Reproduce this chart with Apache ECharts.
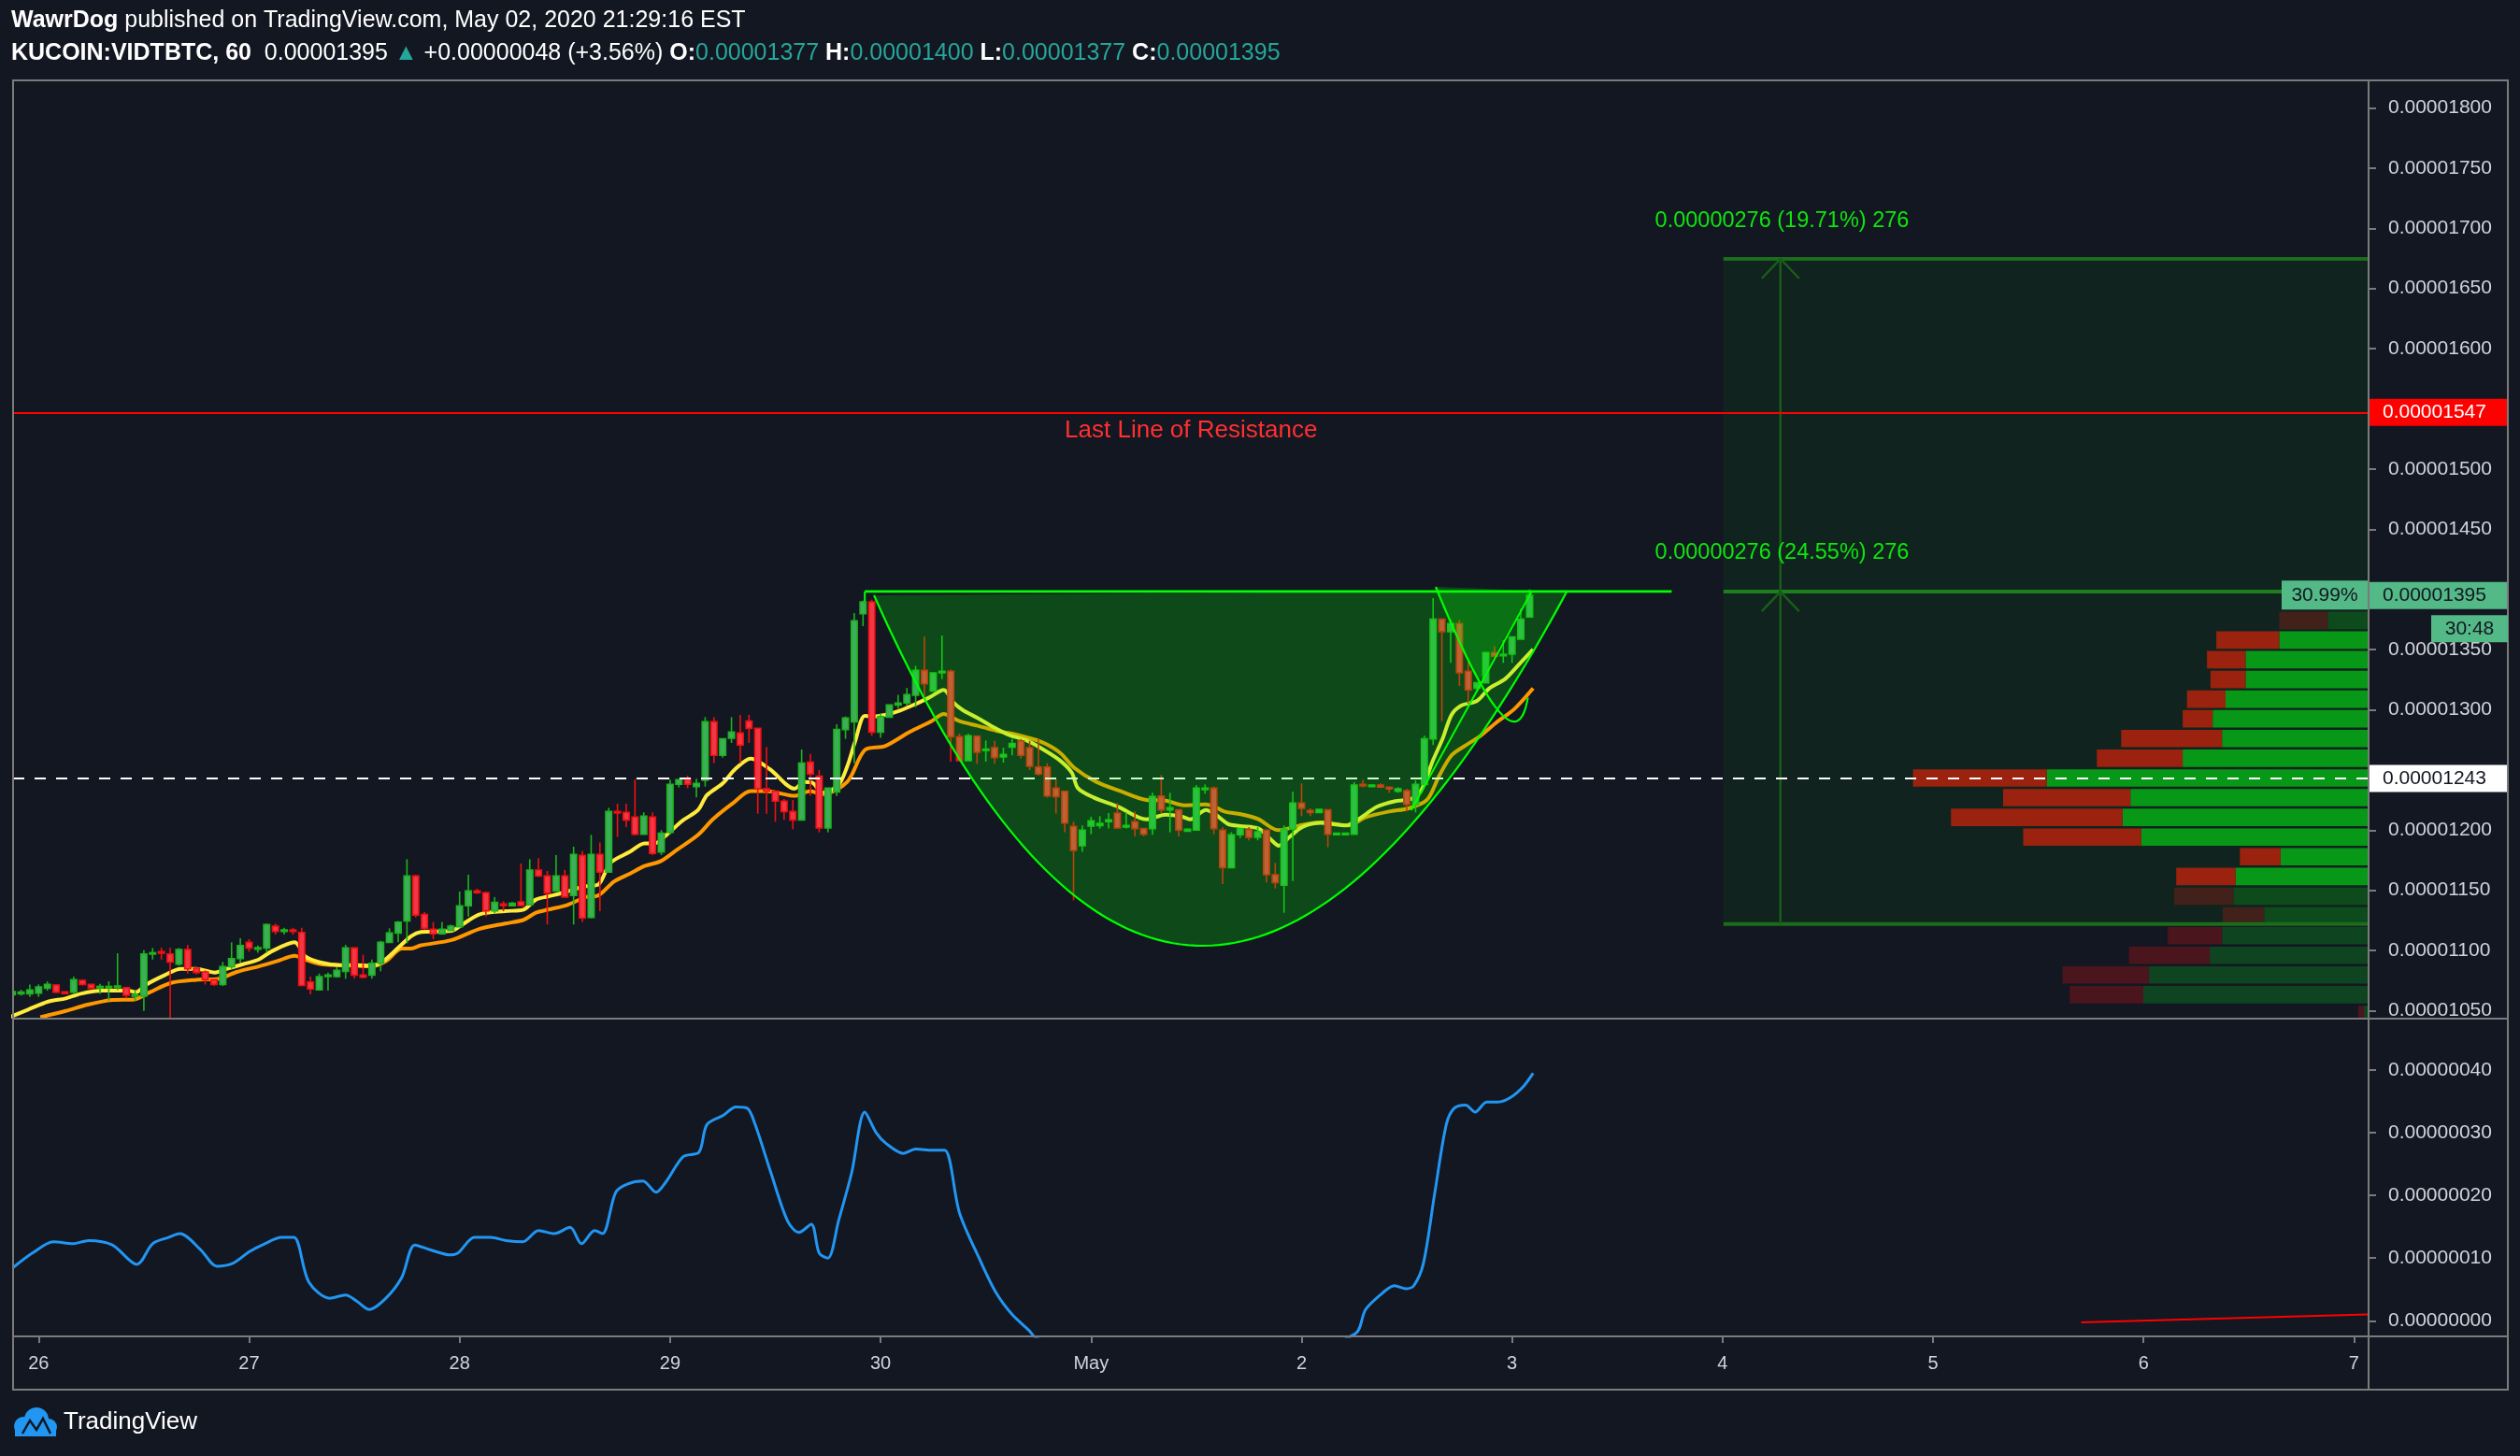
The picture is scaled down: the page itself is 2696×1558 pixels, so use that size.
<!DOCTYPE html>
<html><head><meta charset="utf-8">
<script src="https://cdn.jsdelivr.net/npm/echarts@6/dist/echarts.min.js"></script>
<style>html,body{margin:0;padding:0;background:#131722;}#c{width:2696px;height:1558px;}</style>
</head><body><div id="c"></div>
<script>
// ---------------- DATA (prices in units of 1e-8 BTC, x in hours from Apr 26 00:00) ----------------
const dayTicks = [0,24,48,72,96,120,144,168,192,216,240,264];
const dayLabels = ['26','27','28','29','30','May','2','3','4','5','6','7'];
const priceTicks = [1050,1100,1150,1200,1300,1350,1450,1500,1600,1650,1700,1750,1800];
const oscTicks = [0,10,20,30,40];

const candleStartHour = -3;
const opens = [1063.3,1064.1,1064.1,1064.6,1068.7,1071.3,1065.6,1065.4,1075.2,1071.8,1069.3,1069.2,1069.2,1069.2,1062,1062,1097.2,1099,1097.2,1088.6,1100.8,1085.3,1082.2,1075.7,1071.8,1086.6,1093.3,1106.8,1101,1102.1,1120.2,1115.8,1117.1,1115,1073.9,1067.4,1078.3,1078.3,1082.7,1102.1,1079.6,1079.6,1089.4,1106.8,1114.5,1124.6,1161.9,1130,1117.7,1113.8,1116.7,1119.8,1137.1,1149.5,1148,1133,1138.7,1137.1,1140.5,1137.9,1166.9,1162,1149.5,1162,1145.7,1179,1127.5,1179.8,1165.1,1215.5,1214.8,1210.9,1196.6,1210.9,1181.9,1198.2,1238.1,1242,1236.2,1241.4,1290,1262.1,1276.3,1280.7,1290.6,1284.6,1234.4,1232.4,1224.1,1215.5,1208.5,1256.4,1244.8,1201.8,1231.8,1283.6,1290,1379.8,1389.7,1281.5,1293.9,1304,1305.6,1312,1332.7,1315.6,1330.7,1332,1277.6,1257.7,1278.1,1266.4,1268.5,1260.8,1269,1274.2,1268.5,1252.5,1252.5,1234.9,1232.3,1203.1,1187,1203.3,1203.8,1207,1214.2,1202.6,1207,1201.3,1201.3,1228.4,1216.8,1216.8,1199.2,1200,1233.6,1234.9,1200,1168.9,1196.1,1200.5,1194,1200,1163,1154.2,1200.8,1222.5,1216.3,1214.7,1216.8,1196.1,1196.1,1196.6,1238,1236.2,1237.5,1235.7,1232.3,1232.8,1221.4,1238,1275.8,1375.2,1364.9,1371.6,1332,1317.8,1322.4,1347.5,1344.9,1346.2,1358.7,1377];
const highs = [1067.4,1067.4,1071.8,1071.8,1074.4,1072,1065.8,1078.3,1076,1072,1072.3,1074.4,1097.7,1069.8,1066.6,1100.3,1102.1,1102.3,1102.3,1102.1,1104.7,1086,1083.5,1076.2,1090.5,1106.8,1110.1,1109.4,1104.2,1122.3,1122.3,1118.9,1118.9,1118.9,1078.3,1080.9,1081.7,1086.1,1104.7,1102.5,1096.4,1092.5,1108.1,1118.4,1124.6,1175.9,1162.9,1131.9,1123.7,1123.7,1121.6,1149,1163,1151.3,1149,1144.4,1141,1140.5,1172.3,1175.9,1176.7,1166.1,1179.3,1166.9,1186.3,1182.7,1196.1,1189.7,1218.6,1222,1222,1242,1214.8,1214.8,1200,1242,1242,1245.3,1242.7,1293.9,1293.9,1275.8,1293.9,1295.8,1295.8,1284.6,1269.1,1232.9,1225.9,1225.1,1267,1263.4,1250,1234.9,1288,1294.4,1380.4,1390.7,1391.5,1297,1304,1312.5,1318.2,1336.4,1361,1330.7,1361.7,1333.3,1280.2,1280.2,1278.1,1274.5,1274.2,1268.5,1275.8,1275.8,1274.2,1275.8,1255.6,1242.1,1232.3,1207,1203.9,1211.1,1211.6,1214.2,1222.5,1214.7,1215.5,1201.3,1231,1245.8,1231,1216.8,1201.3,1237.5,1238,1236.2,1202.6,1198.2,1201.3,1202.6,1202.6,1200,1172.8,1203.9,1231.8,1238.8,1218.1,1217.3,1216.8,1197.4,1197.4,1240,1241.9,1238,1238.8,1235.7,1235.7,1234.4,1241.4,1278.4,1392.8,1375.2,1375.2,1374.7,1339.8,1322.4,1347.5,1352.7,1357.9,1360.5,1383.8,1400];
const lows = [1058.4,1062.5,1061.5,1061.5,1066.6,1064.5,1064,1064.1,1071,1068,1064,1058.4,1067.2,1060.2,1058.4,1049.8,1092.5,1092.5,1043,1087.3,1080.9,1080,1071.8,1070.5,1070.5,1084.8,1090,1099,1098.2,1098.2,1113.2,1113.2,1113.2,1070.5,1063.5,1066.6,1066.6,1077.5,1076.5,1076.5,1077,1076.5,1082.7,1106.8,1106.8,1106,1127.5,1117.1,1109.4,1113,1116.7,1119.8,1128.3,1147,1128.3,1130.9,1132.7,1137.1,1137.1,1137.9,1161,1121.6,1149.5,1144.4,1121.6,1123.7,1126.8,1132.7,1165.1,1194.3,1202.6,1195.6,1196.6,1179.3,1179.3,1196.1,1235.5,1234.9,1227.2,1236.2,1255.7,1260.3,1272.5,1255.7,1272.5,1213.7,1213.7,1207,1208.5,1200.8,1208.5,1228.5,1198.2,1198.2,1228.4,1275.8,1255.6,1369.5,1278.4,1276.8,1293.9,1300.9,1303.5,1302.2,1311.2,1315.6,1325.5,1256.9,1256.9,1257.7,1255.1,1256.9,1255.1,1256.1,1262.1,1259.5,1249.9,1245.2,1227.1,1213.7,1198.2,1141.7,1181.9,1196.6,1201.3,1201.3,1201.3,1201.3,1194.8,1194.8,1196.1,1214.2,1198.2,1194.8,1198.7,1200,1230.2,1196.6,1155.2,1168.9,1193.5,1191.5,1191.5,1156.5,1151.6,1131.4,1157.8,1211.6,1211.6,1214.7,1185.8,1196,1196,1196.6,1235.5,1236.2,1235,1231,1231,1215.5,1214.7,1238,1270.7,1290.6,1339,1319.8,1304.8,1315.2,1322.4,1343.6,1339,1339,1358.7,1377];
const closes = [1065.9,1065.4,1067.2,1069.8,1071.8,1065.4,1064.3,1075.7,1071.8,1068.7,1070.2,1070.2,1070.5,1062.8,1063.3,1097.2,1098.2,1097.7,1090.4,1100.8,1084.8,1081.7,1075.7,1071.8,1086.6,1093.3,1104.2,1102.1,1102.3,1121.5,1115.8,1117.1,1115.8,1071,1068,1078.3,1079.6,1083.5,1102.1,1079.6,1077.8,1089.4,1106.8,1114.5,1123.6,1161.9,1129.5,1118.4,1113.8,1117.7,1120.3,1137.1,1149.5,1148,1133,1140,1137.4,1139.2,1137.4,1166.9,1162,1147.7,1162,1144.4,1179.8,1127,1179.8,1165.1,1215.5,1214.2,1208.5,1196.6,1211.7,1180.6,1197.4,1238.1,1242,1238.1,1238.8,1290,1262.1,1275.8,1281.5,1270.7,1284.6,1234.4,1232.4,1224.1,1215.5,1208.5,1255.7,1246.6,1201.8,1234.9,1283.6,1293.1,1373.9,1389.7,1281.5,1294.4,1304,1305.6,1312.5,1332.7,1321.6,1330.7,1332,1277.6,1257.7,1278.4,1264.7,1267.3,1260.3,1262.8,1272,1262.1,1253,1246.6,1228.4,1227.9,1205.9,1183.1,1200,1207.7,1205.6,1208.6,1201.8,1203.9,1201.3,1196.6,1227.9,1216.8,1218.6,1200,1200.7,1234.9,1234.9,1201.3,1168.9,1196.1,1201.3,1194,1198.7,1163,1156.5,1200.8,1222.5,1218.1,1214.7,1217.3,1196.6,1197.4,1197.4,1237.5,1236.7,1237.5,1235.7,1234.2,1234.4,1221.4,1238,1275.8,1375.2,1364.9,1371.6,1330.7,1316.5,1322.4,1347.5,1344.4,1346.2,1360.5,1375.2,1395];

const emaFast = [[-3.3,1044.6],[-1.2,1050.9],[1.1,1057.6],[3.1,1060.2],[4.8,1064.1],[7.3,1066.6],[10.2,1066.6],[11.1,1065.4],[12.3,1071.8],[14.4,1079.6],[16.2,1084.8],[18,1084.8],[20.1,1081.7],[21.5,1084.8],[23.3,1088.6],[25.1,1092.5],[26.5,1099],[29.2,1106.8],[30.4,1095.1],[32.2,1090],[34.3,1087.9],[36.1,1087.9],[37.9,1087.4],[39.3,1091.2],[41.1,1102.9],[42.5,1112],[43.6,1115.4],[47.1,1116.4],[48.2,1121.1],[50.3,1130.1],[53.2,1132.7],[55.3,1134],[56.7,1142.3],[58.1,1144.9],[59.9,1148.2],[61,1150.8],[62.4,1153.4],[63.8,1154.7],[65.2,1172.8],[67.4,1181.9],[69.1,1188.9],[70.2,1188.9],[71.6,1196.1],[73.4,1207.8],[75.2,1216.8],[76.2,1229],[78,1238.8],[79.4,1250.5],[81.2,1259.5],[83.4,1250.5],[86.2,1234.4],[87.3,1240.1],[88.2,1239.6],[89,1232.9],[89.4,1231],[91.2,1237.5],[92.2,1253],[93.1,1273.7],[94.2,1295],[95.1,1294.4],[96.5,1295.7],[98.3,1299.6],[100,1304.8],[101.5,1310],[103.2,1316.4],[104.3,1306.1],[105.4,1299.6],[107.1,1293.1],[108.9,1285.4],[110.7,1278.9],[112.5,1275],[114.2,1268.5],[116.4,1258.2],[117.8,1247.8],[118.5,1234.9],[120.3,1227.1],[123.1,1219.4],[126.3,1209],[128.5,1212.9],[130.2,1211.6],[131.3,1209],[133.1,1216.8],[134.1,1213.5],[135.6,1205.2],[137,1203.4],[139.1,1201.3],[140.5,1192.2],[141.4,1187.1],[142.7,1194.8],[144.1,1202.6],[146.2,1206],[149.1,1203.9],[150.5,1209.1],[152.6,1219.4],[154.7,1224.1],[156.5,1225.9],[157.6,1232.4],[159,1258.2],[160.1,1276.3],[161.1,1295.8],[162.2,1303.5],[164,1307.4],[165.4,1317.8],[167.2,1325.5],[168.9,1338.5],[170.4,1350.1]];
const emaSlow = [[0.2,1044.6],[3.1,1049.8],[5.6,1055],[8.4,1058.9],[10.9,1059.4],[12.7,1065.4],[15.1,1073.1],[18,1075.7],[20.5,1076.5],[22.6,1082.2],[25.1,1086.8],[27.2,1091.2],[29.2,1095.6],[30.4,1092.5],[32.2,1088.6],[34.3,1087.9],[36.1,1087.4],[37.9,1086.8],[39.6,1091.2],[41.4,1101.6],[42.5,1101.7],[43.6,1104.3],[47.1,1108.7],[50.3,1118],[53.2,1122.4],[55.3,1125.5],[56.7,1131.4],[58.1,1134],[60.3,1137.9],[62.4,1144.4],[63.8,1145.7],[65.6,1157.3],[67.4,1163.8],[69.1,1170.2],[70.9,1174.1],[72.7,1183.2],[75.2,1196.1],[76.9,1209.1],[79.1,1222],[81.2,1232.4],[83,1232.4],[86.2,1228.5],[88,1232.4],[89.4,1229.8],[92.2,1240.1],[94.2,1266.5],[96.5,1269.8],[99.3,1281.5],[101.8,1290.5],[103.2,1296.5],[105,1290.5],[107.1,1286.7],[109.3,1282.3],[111.4,1279.4],[114.2,1273.7],[116.4,1264.7],[118.1,1251.7],[120.6,1240.1],[123.4,1232.3],[126.3,1225.1],[128.5,1224.5],[130.6,1220.7],[133.1,1221.4],[134.1,1219.4],[135.2,1215.5],[137.3,1212.9],[139.1,1209.1],[141.3,1200],[144.1,1204.4],[146.2,1206.5],[149.4,1203.9],[151.2,1210.4],[154,1215.5],[156.2,1218.1],[158.3,1225.1],[159.7,1245.3],[161.1,1262.1],[162.6,1269.9],[164.4,1278.4],[166.2,1289.3],[168.3,1300.9],[170.4,1317.8]];

const oscLine = [[-2.9,8.5],[-0.7,10.8],[1.7,12.6],[3.9,12.3],[5.7,12.8],[8.4,12.1],[11.2,9.0],[13.0,12.3],[14.8,13.3],[16.1,13.9],[18.5,11.3],[20.3,8.7],[22.2,9.2],[24.0,11.0],[25.8,12.3],[27.7,13.3],[29.1,13.3],[30.8,6.2],[33.2,3.6],[35.0,4.1],[36.3,3.1],[37.7,1.8],[39.6,3.6],[41.4,6.9],[42.9,12.1],[44.7,11.3],[46.9,10.5],[47.8,10.8],[49.7,13.3],[51.5,13.3],[53.3,12.8],[55.2,12.6],[57.0,14.4],[58.8,13.9],[60.6,14.9],[61.9,12.3],[63.4,14.4],[64.3,13.9],[65.8,20.5],[67.1,21.8],[68.9,22.3],[70.4,20.5],[71.6,22.3],[73.5,26.2],[75.3,26.9],[76.2,31.3],[78.1,32.8],[79.5,34.1],[80.8,33.9],[81.7,31.3],[83.5,23.6],[85.4,15.9],[86.7,14.1],[88.1,15.4],[89.0,10.8],[90.0,10.0],[91.2,15.9],[92.7,23.6],[94.2,33.3],[95.5,30.0],[96.7,28.2],[98.6,26.7],[100.0,27.4],[101.9,27.2],[103.3,27.2],[105.0,17.2],[107.4,9.5],[109.2,4.4],[111.0,1.0],[112.9,-1.5],[113.8,-2.8],[123.8,-8],[138.5,-8],[150.1,-2.1],[151.3,1.8],[153.2,4.4],[154.6,5.6],[155.9,5.1],[156.8,5.6],[157.9,9.2],[159.2,20.5],[160.5,31.3],[161.4,33.9],[162.7,34.4],[163.8,33.3],[165.1,34.9],[166.4,34.9],[167.8,35.6],[169.3,37.4],[170.4,39.5]];
const oscTrend = [[232.9,-0.25],[265.6,1.03]];

// Visible range volume profile rows: row centre price, up volume, down volume, outside value area (1)
const vpCentres = [1374.3,1357.9,1341.6,1325.2,1308.8,1292.5,1276.1,1259.7,1243.3,1227,1210.6,1194.2,1177.9,1161.5,1145.1,1128.8,1112.4,1096,1079.7,1063.3,1046.9];
const vpUp = [43.6,95.6,131.6,131.6,153,166.8,156.8,198.9,344.3,254.8,263.2,243.3,94.1,142.3,144.6,111.7,156.8,169.9,234.9,241,5];
const vpDown = [52,67.3,41.3,37.5,41.3,32.1,107.9,91.8,143.1,136.2,183.6,126.2,43.6,63.5,63.5,44.4,58.1,86.5,92.6,78.8,6];
const vpOutside = [1,0,0,0,0,0,0,0,0,0,0,0,0,0,1,1,1,1,1,1,1];

// Drawings (anchor points: [hour, price])
const resistancePrice = 1547;
const pocPrice = 1243;
const lastPrice = 1395;
const cupRim = [[94.2,1398.3],[186.2,1398.3]];
const cupLeftTick = [[94.2,1398.3],[94.2,1390]];
const cupCurve = [[95.25,1395.1],[130.95,810.9],[174.3,1399]];
const handleCurve = [[159.3,1402.1],[168.25,1243.2],[169.8,1310]];
const handleLine = [[156.5,1216.6],[170.3,1399]];
const posLeftHour = 192.1, posArrowHour = 198.6;
const posLevels = {stop:1122.1, entry:1398.2, target:1674.6};
const posTexts = [[184.3,1705.9,'0.00000276 (19.71%) 276'],[184.3,1430.3,'0.00000276 (24.55%) 276']];
const resistanceText = [131.4,1531.8,'Last Line of Resistance'];

// ---------------- CHART ----------------
const FONT = "'Liberation Sans','DejaVu Sans',sans-serif";
const X_MIN = -2.91, X_MAX = 265.66;
const fmtPrice = v => (v/1e8).toFixed(8);
const chart = echarts.init(document.getElementById('c'), null, {renderer:'canvas', width:2696, height:1558});

const candleData = opens.map((o,i)=>[candleStartHour+i, o, highs[i], lows[i], closes[i]]);
const vpData = vpCentres.map((c,i)=>[c, vpUp[i], vpDown[i], vpOutside[i]]);

function quadPts(s,c,e,n){const p=[];for(let i=0;i<=n;i++){const t=i/n,a=(1-t)*(1-t),b=2*t*(1-t),d=t*t;p.push([a*s[0]+b*c[0]+d*e[0],a*s[1]+b*c[1]+d*e[1]]);}return p;}

function renderCandle(params, api){
  const x=api.value(0),o=api.value(1),h=api.value(2),l=api.value(3),c=api.value(4);
  const pO=api.coord([x,o]),pC=api.coord([x,c]),pH=api.coord([x,h]),pL=api.coord([x,l]);
  const w=api.size([1,0])[0]*0.68;
  const up=c>=o;
  const top=Math.min(pO[1],pC[1]),bot=Math.max(pO[1],pC[1]);
  const border=up?'#1cb51c':'#f01010', fill=up?'#3dae5a':'#f23645';
  return {type:'group',children:[
    {type:'line',shape:{x1:pH[0],y1:pH[1],x2:pL[0],y2:pL[1]},style:{stroke:border,lineWidth:1.6}},
    {type:'rect',shape:{x:pO[0]-w/2,y:top,width:w,height:Math.max(bot-top,1.5)},style:{fill:fill,stroke:border,lineWidth:1.6}}
  ]};
}

function renderCup(params, api){
  const s=api.coord(cupCurve[0]),c=api.coord(cupCurve[1]),e=api.coord(cupCurve[2]);
  const big=quadPts(s,c,e,90);
  const r0=api.coord(cupRim[0]),r1=api.coord(cupRim[1]);
  const t0=api.coord(cupLeftTick[0]),t1=api.coord(cupLeftTick[1]);
  const hs=api.coord(handleCurve[0]),hc=api.coord(handleCurve[1]),he=api.coord(handleCurve[2]);
  const hp=quadPts(hs,hc,he,60);
  const la=api.coord(handleLine[0]),lb=api.coord(handleLine[1]);
  const side=p=>(lb[0]-la[0])*(p[1]-la[1])-(lb[1]-la[1])*(p[0]-la[0]);
  const s0=Math.sign(side(hp[0]));const hfill=[];
  for(const p of hp){ if(Math.sign(side(p))!==s0) break; hfill.push(p);} hfill.push(lb);
  const G='#00ff00';
  return {type:'group',children:[
    {type:'polygon',shape:{points:big},style:{fill:'rgba(0,255,0,0.22)'}},
    {type:'polygon',shape:{points:hfill},style:{fill:'rgba(0,255,0,0.22)'}},
    {type:'polyline',shape:{points:big},style:{stroke:G,lineWidth:2.2,fill:null}},
    {type:'polyline',shape:{points:hp},style:{stroke:G,lineWidth:2.2,fill:null}},
    {type:'line',shape:{x1:la[0],y1:la[1],x2:lb[0],y2:lb[1]},style:{stroke:G,lineWidth:2}},
    {type:'line',shape:{x1:r0[0],y1:r0[1],x2:r1[0],y2:r1[1]},style:{stroke:G,lineWidth:2.6}},
    {type:'line',shape:{x1:t0[0],y1:t0[1],x2:t1[0],y2:t1[1]},style:{stroke:G,lineWidth:2}}
  ]};
}

function renderPosition(params, api){
  const tl=api.coord([posLeftHour,posLevels.target]), br=api.coord([X_MAX,posLevels.stop]);
  const en=api.coord([posLeftHour,posLevels.entry]);
  const aTop=api.coord([posArrowHour,posLevels.target]), aEn=api.coord([posArrowHour,posLevels.entry]), aBot=api.coord([posArrowHour,posLevels.stop]);
  const lc='#1b6c1b', ac='#1a5c1a';
  const chev=p=>({type:'polyline',shape:{points:[[p[0]-20,p[1]+21],[p[0],p[1]],[p[0]+20,p[1]+21]]},style:{stroke:ac,lineWidth:2.5,fill:null}});
  const kids=[
    {type:'rect',shape:{x:tl[0],y:tl[1],width:br[0]-tl[0],height:br[1]-tl[1]},style:{fill:'rgba(0,140,0,0.11)'}},
    {type:'line',shape:{x1:tl[0],y1:tl[1],x2:br[0],y2:tl[1]},style:{stroke:lc,lineWidth:4}},
    {type:'line',shape:{x1:tl[0],y1:en[1],x2:br[0],y2:en[1]},style:{stroke:'#1d801d',lineWidth:4}},
    {type:'line',shape:{x1:tl[0],y1:br[1],x2:br[0],y2:br[1]},style:{stroke:lc,lineWidth:4}},
    {type:'line',shape:{x1:aBot[0],y1:aBot[1],x2:aTop[0],y2:aTop[1]},style:{stroke:ac,lineWidth:2.5}},
    chev(aTop), chev(aEn)
  ];
  posTexts.forEach(t=>{const p=api.coord([t[0],t[1]]);kids.push({type:'text',x:p[0],y:p[1],style:{text:t[2],fill:'#0ee60e',fontSize:23.5,fontFamily:FONT,align:'left',verticalAlign:'middle'}});});
  const rp=api.coord([resistanceText[0],resistanceText[1]]);
  kids.push({type:'text',x:rp[0],y:rp[1],style:{text:resistanceText[2],fill:'#ff3030',fontSize:26,fontFamily:FONT,align:'center',verticalAlign:'middle'}});
  return {type:'group',children:kids};
}

function renderVP(params, api){
  const c=api.value(0),up=api.value(1),dn=api.value(2),out=api.value(3);
  const half=7.25;
  const a=api.coord([0,c+half]), b=api.coord([up,c-half]), d=api.coord([up+dn,c-half]);
  const gC=out?'#0f4421':'#0a9a1b', rC=out?'#4a151d':'#ad1610';
  return {type:'group',children:[
    {type:'rect',shape:{x:b[0],y:a[1],width:a[0]-b[0],height:b[1]-a[1]},style:{fill:gC}},
    {type:'rect',shape:{x:d[0],y:a[1],width:b[0]-d[0],height:b[1]-a[1]},style:{fill:rC}}
  ]};
}

const axisGray='#7b7b7b', labelGray='#d1d4dc';
const lineLabel=(txt,bg,fg)=>({show:true,position:'end',distance:1,formatter:txt,backgroundColor:bg,color:fg,fontSize:21,fontFamily:FONT,padding:[4,14,4,14],width:121,align:'left'});

const option = {
  backgroundColor:'#131722',
  animation:false,
  grid:[
    {left:14,top:86,width:2520,height:1004,show:false},
    {left:14,top:1090,width:2520,height:340,show:false}
  ],
  xAxis:[
    {type:'value',gridIndex:0,min:X_MIN,max:X_MAX,show:false},
    {type:'value',gridIndex:1,min:X_MIN,max:X_MAX,
      axisLine:{show:false,onZero:false},splitLine:{show:false},
      axisTick:{show:true,customValues:dayTicks,length:7,lineStyle:{color:axisGray,width:2}},
      axisLabel:{show:true,customValues:dayTicks,margin:19,color:labelGray,fontSize:20,fontFamily:FONT,
        formatter:v=>{const i=dayTicks.indexOf(v);return i>=0?dayLabels[i]:'';}}},
    {type:'value',gridIndex:0,min:0,max:2520,inverse:true,show:false}
  ],
  yAxis:[
    {type:'value',gridIndex:0,position:'right',min:1043.4,max:1822.9,
      axisLine:{show:false,onZero:false},splitLine:{show:false},
      axisTick:{show:true,customValues:priceTicks,length:8,lineStyle:{color:axisGray,width:2}},
      axisLabel:{show:true,customValues:priceTicks,margin:21,color:labelGray,fontSize:21,fontFamily:FONT,formatter:fmtPrice}},
    {type:'value',gridIndex:1,position:'right',min:-2.49,max:48.2,
      axisLine:{show:false,onZero:false},splitLine:{show:false},
      axisTick:{show:true,customValues:oscTicks,length:8,lineStyle:{color:axisGray,width:2}},
      axisLabel:{show:true,customValues:oscTicks,margin:21,color:labelGray,fontSize:21,fontFamily:FONT,formatter:fmtPrice}}
  ],
  series:[
    {type:'custom',name:'vp',xAxisIndex:2,yAxisIndex:0,data:vpData,renderItem:renderVP,clip:true,z:1,silent:true},
    {type:'custom',name:'position',xAxisIndex:0,yAxisIndex:0,data:[[0,0]],renderItem:renderPosition,clip:true,z:2,silent:true},
    {type:'line',name:'emaSlow',xAxisIndex:0,yAxisIndex:0,data:emaSlow,showSymbol:false,smooth:0.3,
      lineStyle:{color:'#ff9800',width:4},z:3,silent:true},
    {type:'line',name:'emaFast',xAxisIndex:0,yAxisIndex:0,data:emaFast,showSymbol:false,smooth:0.3,
      lineStyle:{color:'#ffeb3b',width:4},z:3,silent:true,
      markLine:{silent:true,symbol:['none','none'],animation:false,data:[
        {yAxis:resistancePrice,lineStyle:{color:'#ff0000',width:2,type:'solid'},label:lineLabel(fmtPrice(resistancePrice),'#ff0000','#ffffff')},
        {yAxis:pocPrice,lineStyle:{color:'#ffffff',width:2,type:[12,11]},label:lineLabel(fmtPrice(pocPrice),'#ffffff','#131722')},
        {yAxis:lastPrice,lineStyle:{color:'rgba(0,0,0,0)',width:1},label:lineLabel(fmtPrice(lastPrice),'#53b987','#131722')}
      ]}},
    {type:'custom',name:'candles',xAxisIndex:0,yAxisIndex:0,data:candleData,renderItem:renderCandle,clip:true,z:4,silent:true},
    {type:'custom',name:'cup',xAxisIndex:0,yAxisIndex:0,data:[[0,0]],renderItem:renderCup,clip:true,z:5,silent:true},
    {type:'line',name:'osc',xAxisIndex:1,yAxisIndex:1,data:oscLine,showSymbol:false,smooth:0.3,lineStyle:{color:'#2196f3',width:3},z:3,silent:true},
    {type:'line',name:'oscTrend',xAxisIndex:1,yAxisIndex:1,data:oscTrend,showSymbol:false,lineStyle:{color:'#ff0000',width:2},z:3,silent:true}
  ]
};
chart.setOption(option);

const yLast = chart.convertToPixel({xAxisIndex:0,yAxisIndex:0},[0,lastPrice])[1];
const G = [];
// frame
G.push({type:'rect',shape:{x:14,y:86,width:2669,height:1401},style:{fill:null,stroke:axisGray,lineWidth:2},z:100});
G.push({type:'line',shape:{x1:14,y1:1090,x2:2683,y2:1090},style:{stroke:axisGray,lineWidth:2},z:100});
G.push({type:'line',shape:{x1:14,y1:1430,x2:2683,y2:1430},style:{stroke:axisGray,lineWidth:2},z:100});
G.push({type:'line',shape:{x1:2534,y1:86,x2:2534,y2:1487},style:{stroke:axisGray,lineWidth:2},z:100});
// header
G.push({type:'text',x:12,y:22,z:100,style:{fontFamily:FONT,fontSize:25,fill:'#ffffff',verticalAlign:'middle',
  text:'{b|WawrDog} published on TradingView.com, May 02, 2020 21:29:16 EST',
  rich:{b:{fontWeight:'bold',fontSize:25,fontFamily:FONT,fill:'#ffffff'}}}});
G.push({type:'text',x:12,y:57,z:100,style:{fontFamily:FONT,fontSize:25,fill:'#ffffff',verticalAlign:'middle',
  text:'{b|KUCOIN:VIDTBTC, 60}  0.00001395 {t|▲} +0.00000048 (+3.56%) {b|O:}{t|0.00001377} {b|H:}{t|0.00001400} {b|L:}{t|0.00001377} {b|C:}{t|0.00001395}',
  rich:{b:{fontWeight:'bold',fontSize:25,fontFamily:FONT,fill:'#ffffff'},t:{fontSize:25,fontFamily:FONT,fill:'#26a69a'}}}});
// last price helper boxes
G.push({type:'rect',shape:{x:2441,y:yLast-16,width:92,height:31},style:{fill:'#53b987'},z:100});
G.push({type:'text',x:2487,y:yLast,z:101,style:{text:'30.99%',fontFamily:FONT,fontSize:21,fill:'#131722',align:'center',verticalAlign:'middle'}});
G.push({type:'rect',shape:{x:2601,y:yLast+21,width:82,height:29},style:{fill:'#53b987'},z:100});
G.push({type:'text',x:2642,y:yLast+36,z:101,style:{text:'30:48',fontFamily:FONT,fontSize:21,fill:'#131722',align:'center',verticalAlign:'middle'}});
// logo
G.push({type:'group',x:14,y:1506,z:100,children:[
  {type:'circle',shape:{cx:11,cy:20,r:10},style:{fill:'#2196f3'}},
  {type:'circle',shape:{cx:25,cy:13,r:13},style:{fill:'#2196f3'}},
  {type:'circle',shape:{cx:38,cy:21,r:9},style:{fill:'#2196f3'}},
  {type:'rect',shape:{x:2,y:20,width:44,height:11},style:{fill:'#2196f3'}},
  {type:'polyline',shape:{points:[[10,28],[18,14],[25,24],[32,12],[40,28]]},style:{stroke:'#131722',lineWidth:2.5,fill:null}}
]});
G.push({type:'text',x:68,y:1522,z:100,style:{text:'TradingView',fontFamily:FONT,fontSize:26,fill:'#ffffff',verticalAlign:'middle'}});
chart.setOption({graphic:G});
</script></body></html>
